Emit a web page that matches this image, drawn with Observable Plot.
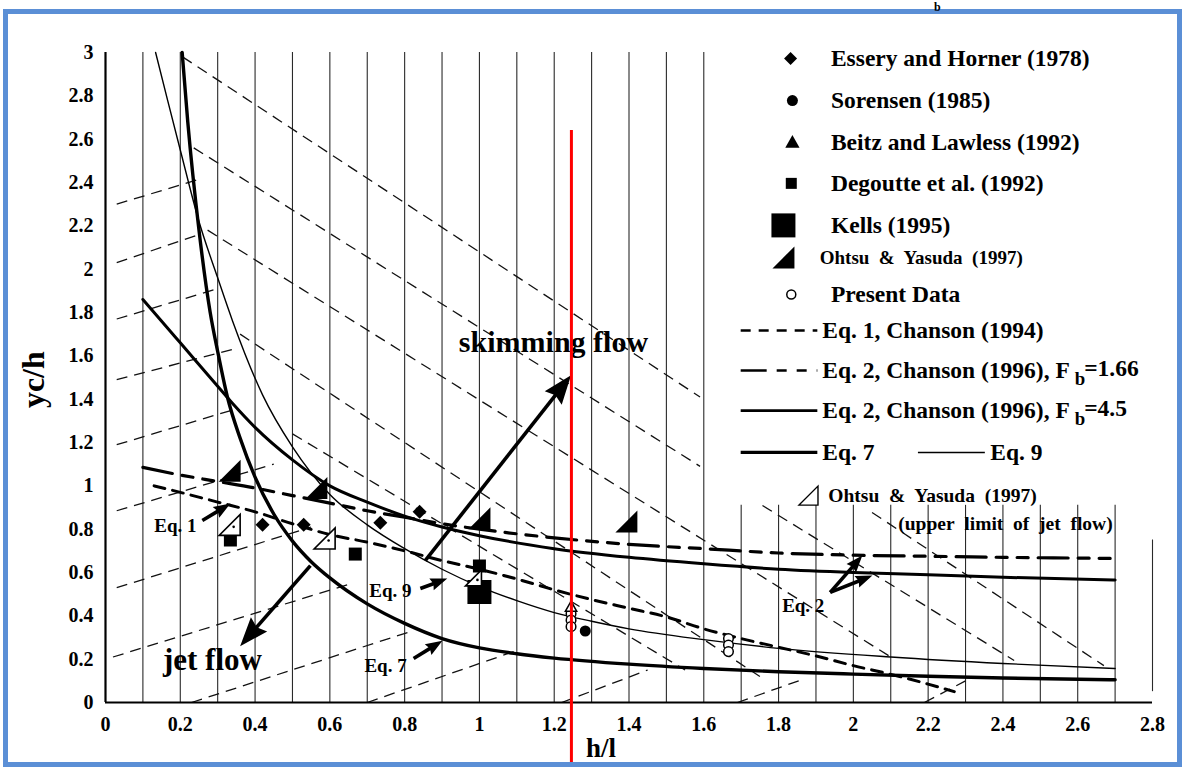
<!DOCTYPE html>
<html><head><meta charset="utf-8">
<script src="https://cdn.jsdelivr.net/npm/d3@7"></script>
<script src="https://cdn.jsdelivr.net/npm/@observablehq/plot@0.6"></script>
<style>
html,body{margin:0;padding:0;background:#fff}
body{width:1182px;height:767px;overflow:hidden;position:relative;font-family:"Liberation Serif",serif}
#chart{position:absolute;left:0;top:0}
#frame{position:absolute;left:3px;top:9px;width:1169px;height:748px;border:5px solid #5b8fd6;pointer-events:none}
#topb{position:absolute;left:934px;top:1px;font:bold 12px "Liberation Serif",serif;line-height:12px;color:#000}
</style></head><body>
<div id="chart"></div><div id="frame"></div><div id="topb">b</div>
<script>
// ---------- tick labels ----------
const xTicks = [0,0.2,0.4,0.6,0.8,1,1.2,1.4,1.6,1.8,2,2.2,2.4,2.6,2.8];
const xTickLabels = ["0","0.2","0.4","0.6","0.8","1","1.2","1.4","1.6","1.8","2","2.2","2.4","2.6","2.8"];
const yTicks = [0,0.2,0.4,0.6,0.8,1,1.2,1.4,1.6,1.8,2,2.2,2.4,2.6,2.8,3];
const yTickLabels = ["0","0.2","0.4","0.6","0.8","1","1.2","1.4","1.6","1.8","2","2.2","2.4","2.6","2.8","3"];

// ---------- curves ----------
const eq7X = [0.205,0.22,0.25,0.28,0.30,0.326,0.36,0.40,0.45,0.50,0.55,0.60,0.70,0.80,0.90,1.00,1.10,1.20,1.40,1.60,1.80,2.00,2.20,2.40,2.70];
const eq7Y = [3.00,2.68,2.18,1.80,1.62,1.41,1.22,1.04,0.87,0.745,0.65,0.575,0.455,0.365,0.295,0.252,0.225,0.205,0.177,0.157,0.142,0.131,0.121,0.113,0.105];

const eq9X = [0.134,0.166,0.20,0.25,0.30,0.34,0.42,0.50,0.60,0.70,0.80,0.90,1.00,1.10,1.20,1.30,1.40,1.60,1.80,2.10,2.40,2.70];
const eq9Y = [3.00,2.78,2.55,2.22,1.96,1.76,1.42,1.18,0.96,0.82,0.71,0.615,0.535,0.47,0.415,0.375,0.34,0.29,0.25,0.21,0.18,0.157];

const eq2bX = [0.10,0.20,0.30,0.34,0.40,0.50,0.60,0.70,0.80,0.90,1.00,1.20,1.40,1.60,1.80,2.00,2.20,2.40,2.70];
const eq2bY = [1.86,1.66,1.46,1.38,1.27,1.12,1.00,0.925,0.86,0.81,0.77,0.71,0.67,0.64,0.615,0.60,0.59,0.578,0.565];

const eq2aX = [0.10,0.20,0.30,0.40,0.50,0.60,0.70,0.80,0.90,1.00,1.20,1.40,1.60,1.80,2.00,2.20,2.40,2.70];
const eq2aY = [1.085,1.05,1.02,0.99,0.955,0.92,0.885,0.855,0.825,0.80,0.76,0.73,0.71,0.69,0.68,0.675,0.67,0.665];

const eq1X = [0.13,0.20,0.30,0.40,0.50,0.60,0.70,0.80,0.90,1.00,1.10,1.20,1.30,1.40,1.50,1.60,1.70,1.80,1.90,2.00,2.10,2.20,2.27];
const eq1Y = [1.00,0.97,0.925,0.88,0.825,0.775,0.74,0.70,0.655,0.615,0.57,0.52,0.475,0.435,0.395,0.34,0.295,0.255,0.215,0.17,0.13,0.085,0.05];

// ---------- background guide lines (dashed) ----------
const guideX1 = [0.03,0.03,0.03,0.03,0.03,0.03,0.03,0.02,0.23,0.70,1.22,1.69,2.19, 0.206,0.236,0.273,0.36,0.50,1.757,2.05];
const guideY1 = [2.30,2.03,1.77,1.49,1.19,0.885,0.53,0.21,0.00,0.00,0.00,0.00,0.00, 2.98,2.56,2.18,1.70,1.24,0.909,0.877];
const guideX2 = [0.26,0.25,0.30,0.34,0.34,0.45,0.55,0.65,0.82,1.10,1.45,1.87,2.30, 1.59,1.59,2.10,1.75,1.55,2.43,2.67];
const guideY2 = [2.42,2.16,1.91,1.63,1.35,1.10,0.81,0.545,0.33,0.24,0.15,0.11,0.10, 1.41,1.09,0.21,0.12,0.15,0.194,0.17];

// ---------- data points ----------
const esseryX = [0.42,0.53,0.735,0.84];
const esseryY = [0.82,0.82,0.83,0.88];
const sorensenX = [1.283];
const sorensenY = [0.33];
const beitzX = [1.245];
const beitzY = [0.44];
const degoutteX = [0.334,0.668,1.0];
const degoutteY = [0.75,0.685,0.63];
const kellsX = [1.0];
const kellsY = [0.51];
const ohtsuX = [0.332,0.564,1.0,1.393];
const ohtsuY = [1.07,0.99,0.85,0.835];
const ohtsuOpenX = [0.332,0.586,0.984];
const ohtsuOpenY = [0.82,0.757,0.575];
const presentX = [1.245,1.245,1.245,1.666,1.666,1.666];
const presentY = [0.41,0.38,0.35,0.295,0.265,0.235];

// ---------- arrows & annotations ----------
const arrowX1 = [0.855,0.548,0.259,0.842,0.824,1.938,1.938];
const arrowY1 = [0.655,0.632,0.84,0.526,0.203,0.508,0.508];
const arrowX2 = [1.245,0.36,0.334,0.914,0.901,2.024,2.051];
const arrowY2 = [1.51,0.26,0.918,0.572,0.285,0.678,0.586];
const arrowBig = [true,true,false,false,false,false,false];

const noteText = ["skimming flow","jet flow","Eq. 1","Eq. 9","Eq. 7","Eq. 2"];
const noteX = [1.198,0.286,0.187,0.762,0.749,1.866];
const noteY = [1.661,0.194,0.817,0.517,0.171,0.448];
const noteSize = [30,31,19,19,19,19];

// ---------- legend ----------
const legendSymbolLabels = ["Essery and Horner (1978)","Sorensen (1985)","Beitz and Lawless (1992)","Degoutte et al. (1992)","Kells (1995)","Ohtsu\u00a0 &\u00a0 Yasuda\u00a0 (1997)","Present Data"];
const legendLineLabels = ["Eq. 1, Chanson (1994)","Eq. 2, Chanson (1996), F b=1.66","Eq. 2, Chanson (1996), F b=4.5","Eq. 7"];

const redLineX = 1.246;

// ================= drawing =================
const W = 1182, H = 767, mL = 105, mR = 30, mT = 52, mB = 65;
const sx = d3.scaleLinear([0, 2.8], [mL, W - mR]);
const sy = d3.scaleLinear([0, 3], [H - mB, mT]);
const pairs = (X, Y) => X.map((x, i) => ({x, y: Y[i]}));

function shape(fn) { return {draw(ctx, size) { fn(ctx, Math.sqrt(size / Math.PI)); }}; }
const diamondS = shape((c, h) => { c.moveTo(0,-h); c.lineTo(h,0); c.lineTo(0,h); c.lineTo(-h,0); c.closePath(); });
const squareS = shape((c, h) => { c.moveTo(-h,-h); c.lineTo(h,-h); c.lineTo(h,h); c.lineTo(-h,h); c.closePath(); });
const triS = shape((c, h) => { c.moveTo(0,-h); c.lineTo(h*0.95,h*0.7); c.lineTo(-h*0.95,h*0.7); c.closePath(); });
const rtriS = shape((c, h) => { c.moveTo(-h,h); c.lineTo(h,h); c.lineTo(h,-h); c.closePath(); });
const headS = shape((c, h) => { c.moveTo(0,0); c.lineTo(h*0.45,h*1.2); c.lineTo(0,h*1.05); c.lineTo(-h*0.45,h*1.2); c.closePath(); });

// arrow geometry in screen space
const arrows = arrowX1.map((x1, i) => {
  const px1 = sx(x1), py1 = sy(arrowY1[i]), px2 = sx(arrowX2[i]), py2 = sy(arrowY2[i]);
  const dx = px2 - px1, dy = py2 - py1, len = Math.hypot(dx, dy);
  const hs = arrowBig[i] ? 24 : 14;
  const back = hs * 0.9;
  return {x1, y1: arrowY1[i], x2: arrowX2[i], y2: arrowY2[i],
    xe: sx.invert(px2 - dx / len * back), ye: sy.invert(py2 - dy / len * back),
    rot: Math.atan2(dx, -dy) * 180 / Math.PI, big: arrowBig[i]};
});

const gridX = d3.range(1, 29).map(i => i / 10);
const grid = gridX.map(x => ({x, lo: x > 2.75 ? 0.05 : 0, hi: x > 2.75 ? 0.75 : (x > 1.65 ? 0.91 : 3)}));
const guides = guideX1.map((x1, i) => ({x1, y1: guideY1[i], x2: guideX2[i], y2: guideY2[i]}));

const legRowsY = [2.972,2.778,2.585,2.396,2.202,2.054,1.883];
const legSymX = [1.832,1.837,1.837,1.834,1.813,1.813,1.834];
const legLineY = [1.717,1.532,1.347,1.154];
const legL1 = 1.70, legL2 = 1.905, legTextX = 1.917;

const font = "Liberation Serif";
const T = (data, o) => Plot.text(data, {fontFamily: font, fontWeight: "bold", fill: "#000", ...o});
const ohtsuOpen = pairs(ohtsuOpenX, ohtsuOpenY);

const plot = Plot.plot({
  width: W, height: H,
  marginLeft: mL, marginRight: mR, marginTop: mT, marginBottom: mB,
  x: {domain: [0, 2.8], axis: null},
  y: {domain: [0, 3], axis: null},
  style: {background: "transparent", overflow: "visible", fontFamily: font},
  marks: [
    Plot.ruleX(grid, {x: "x", y1: "lo", y2: "hi", stroke: "#2a2a2a", strokeWidth: 1.1}),
    Plot.link(guides, {x1: "x1", y1: "y1", x2: "x2", y2: "y2", stroke: "#111", strokeWidth: 1.3, strokeDasharray: "11,7"}),
    Plot.ruleY([0], {x1: 0, x2: 2.8, stroke: "#000", strokeWidth: 2.2}),
    Plot.ruleX([0], {y1: 0, y2: 3, stroke: "#000", strokeWidth: 2.2}),
    T(xTicks, {x: d => d, y: 0, dy: 22, text: (d, i) => xTickLabels[i], fontSize: 20}),
    T(yTicks, {x: 0, y: d => d, dx: -12, textAnchor: "end", text: (d, i) => yTickLabels[i], fontSize: 20}),
    Plot.line(pairs(eq1X, eq1Y), {x: "x", y: "y", curve: "monotone-x", stroke: "#000", strokeWidth: 3, strokeDasharray: "11,8"}),
    Plot.line(pairs(eq2aX, eq2aY), {x: "x", y: "y", curve: "monotone-x", stroke: "#000", strokeWidth: 3.2, strokeDasharray: "30,10,11,10,11,10"}),
    Plot.line(pairs(eq2bX, eq2bY), {x: "x", y: "y", curve: "monotone-x", stroke: "#000", strokeWidth: 3}),
    Plot.line(pairs(eq9X, eq9Y), {x: "x", y: "y", curve: "monotone-x", stroke: "#000", strokeWidth: 1.4}),
    Plot.line(pairs(eq7X, eq7Y), {x: "x", y: "y", curve: "monotone-x", stroke: "#000", strokeWidth: 3.4}),
    Plot.dot(pairs(esseryX, esseryY), {x: "x", y: "y", symbol: diamondS, r: 7, fill: "#000", stroke: "none"}),
    Plot.dot(pairs(sorensenX, sorensenY), {x: "x", y: "y", symbol: "circle", r: 5.5, fill: "#000", stroke: "none"}),
    Plot.dot(pairs(degoutteX, degoutteY), {x: "x", y: "y", symbol: squareS, r: 6.5, fill: "#000", stroke: "none"}),
    Plot.dot(pairs(kellsX, kellsY), {x: "x", y: "y", symbol: squareS, r: 12, fill: "#000", stroke: "none"}),
    Plot.dot(pairs(ohtsuX, ohtsuY), {x: "x", y: "y", symbol: rtriS, r: 11, fill: "#000", stroke: "none"}),
    Plot.dot(ohtsuOpen.slice(0, 2), {x: "x", y: "y", symbol: rtriS, r: 10.5, fill: "#fff", stroke: "#000", strokeWidth: 1.6}),
    Plot.dot(ohtsuOpen.slice(2), {x: "x", y: "y", symbol: rtriS, r: 8, fill: "#fff", stroke: "#000", strokeWidth: 1.6}),
    Plot.dot(ohtsuOpen, {x: "x", y: "y", dx: 4, dy: 2, r: 1.3, fill: "#000", stroke: "none"}),
    Plot.dot(pairs(presentX, presentY), {x: "x", y: "y", symbol: "circle", r: 4.8, fill: "#fff", stroke: "#000", strokeWidth: 1.5}),
    Plot.dot(pairs(beitzX, beitzY), {x: "x", y: "y", symbol: triS, r: 6, fill: "#fff", stroke: "#000", strokeWidth: 1.5}),
    Plot.link(arrows, {x1: "x1", y1: "y1", x2: "xe", y2: "ye", stroke: "#000", strokeWidth: 3.6}),
    Plot.dot(arrows.filter(d => d.big), {x: "x2", y: "y2", symbol: headS, r: 24, rotate: "rot", fill: "#000", stroke: "none"}),
    Plot.dot(arrows.filter(d => !d.big), {x: "x2", y: "y2", symbol: headS, r: 14, rotate: "rot", fill: "#000", stroke: "none"}),
    T(noteText.map((t, i) => i), {x: i => noteX[i], y: i => noteY[i], text: i => noteText[i], fontSize: i => noteSize[i]}),
    T(["yc/h"], {x: 0, y: 1.49, dx: -72, rotate: -90, fontSize: 32}),
    T(["h/l"], {x: 1.325, y: 0, dy: 46, fontSize: 27}),
    Plot.dot([0], {x: legSymX[0], y: legRowsY[0], symbol: diamondS, r: 6.5, fill: "#000", stroke: "none"}),
    Plot.dot([0], {x: legSymX[1], y: legRowsY[1], symbol: "circle", r: 5.5, fill: "#000", stroke: "none"}),
    Plot.dot([0], {x: legSymX[2], y: legRowsY[2], symbol: triS, r: 7.5, fill: "#000", stroke: "none"}),
    Plot.dot([0], {x: legSymX[3], y: legRowsY[3], symbol: squareS, r: 5.5, fill: "#000", stroke: "none"}),
    Plot.dot([0], {x: legSymX[4], y: legRowsY[4], symbol: squareS, r: 12, fill: "#000", stroke: "none"}),
    Plot.dot([0], {x: legSymX[5], y: legRowsY[5], symbol: rtriS, r: 11, fill: "#000", stroke: "none"}),
    Plot.dot([0], {x: legSymX[6], y: legRowsY[6], symbol: "circle", r: 4.5, fill: "#fff", stroke: "#000", strokeWidth: 1.5}),
    T(legendSymbolLabels.map((t, i) => i), {x: i => i === 5 ? 1.91 : 1.94, y: i => legRowsY[i], text: i => legendSymbolLabels[i], textAnchor: "start", fontSize: i => i === 5 ? 19 : 23.5}),
    Plot.ruleY([legLineY[0]], {x1: legL1, x2: legL2, stroke: "#000", strokeWidth: 2.6, strokeDasharray: "10,8"}),
    Plot.ruleY([legLineY[1]], {x1: legL1, x2: legL2, stroke: "#000", strokeWidth: 2.6, strokeDasharray: "26,10,10,10,10,10"}),
    Plot.ruleY([legLineY[2]], {x1: legL1, x2: legL2, stroke: "#000", strokeWidth: 2.6}),
    Plot.ruleY([legLineY[3]], {x1: legL1, x2: legL2, stroke: "#000", strokeWidth: 3.2}),
    Plot.ruleY([legLineY[3]], {x1: 2.174, x2: 2.353, stroke: "#000", strokeWidth: 1.5}),
    T(legendLineLabels.map((t, i) => i), {x: legTextX, y: i => legLineY[i], text: i => legendLineLabels[i], textAnchor: "start", fontSize: 23.5}),
    T(["Eq. 9"], {x: 2.366, y: legLineY[3], textAnchor: "start", fontSize: 23.5}),
    Plot.dot([0], {x: 1.88, y: 0.955, symbol: rtriS, r: 9.5, fill: "#fff", stroke: "#000", strokeWidth: 1.4}),
    T(["Ohtsu\u00a0 &\u00a0 Yasuda\u00a0 (1997)"], {x: 1.933, y: 0.955, textAnchor: "start", fontSize: 19.5}),
    T(["(upper\u00a0 limit\u00a0 of\u00a0 jet\u00a0 flow)"], {x: 2.12, y: 0.826, textAnchor: "start", fontSize: 19.5}),
    Plot.ruleX([redLineX], {y1: 2.64, y2: -0.32, stroke: "#ff0000", strokeWidth: 3})
  ]
});
document.getElementById("chart").appendChild(plot);

// subscript b in "F b=..."
plot.querySelectorAll("text").forEach(t => {
  const s = t.textContent;
  const k = s.indexOf("F b=");
  if (k >= 0 && t.children.length === 0) {
    const before = s.slice(0, k + 2), after = s.slice(k + 3);
    t.textContent = before;
    const sub = document.createElementNS("http://www.w3.org/2000/svg", "tspan");
    sub.setAttribute("dy", "0.38em"); sub.setAttribute("font-size", "0.8em"); sub.textContent = "b";
    const rest = document.createElementNS("http://www.w3.org/2000/svg", "tspan");
    rest.setAttribute("dy", "-0.38em"); rest.setAttribute("dx", "-1"); rest.textContent = after;
    t.appendChild(sub); t.appendChild(rest);
  }
});
</script></body></html>
